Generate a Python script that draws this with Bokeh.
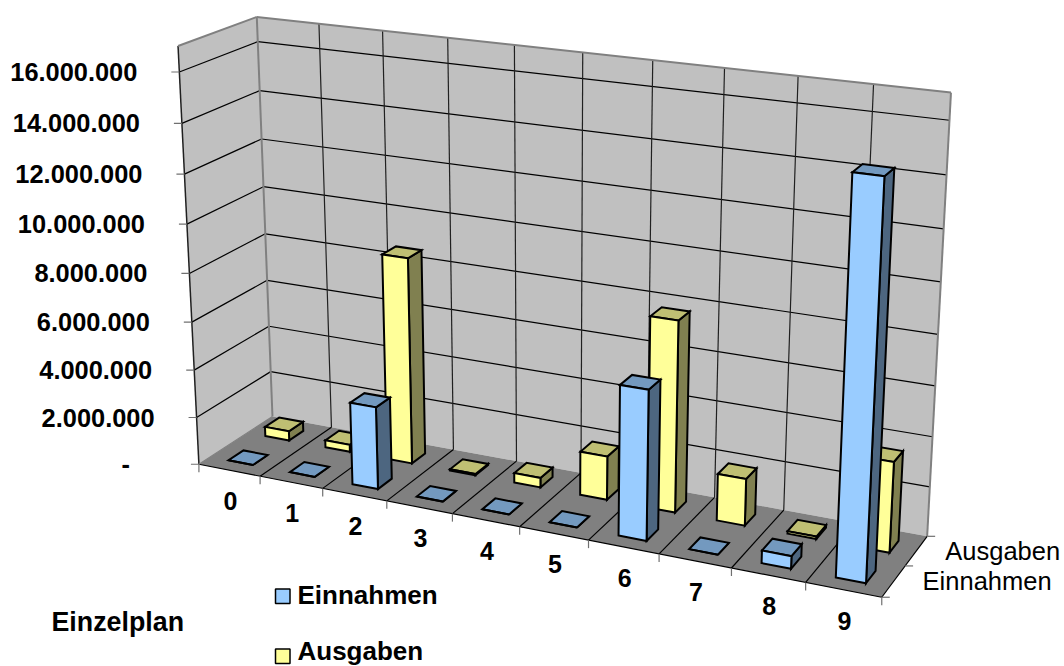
import numpy as np
from bokeh.plotting import figure
from bokeh.models import Range1d
from bokeh.core.properties import value
from bokeh.embed import file_html
from bokeh.resources import INLINE

categories = ["0", "1", "2", "3", "4", "5", "6", "7", "8", "9"]
series_names = ["Einnahmen", "Ausgaben"]
einnahmen = [0, 0, 3410000, 0, 0, 0, 6000000, 0, 500000, 15100000]
ausgaben = [400000, 300000, 8600000, 50000, 400000, 1800000, 7750000, 1900000, 100000, 3600000]
y_ticks = [2000000 * i for i in range(9)]
y_labels = ["-", "2.000.000", "4.000.000", "6.000.000", "8.000.000", "10.000.000",
            "12.000.000", "14.000.000", "16.000.000"]
y_max = 17000000
BAR = 0.4

# Perspective projection: (category, depth, value fraction) -> page pixels, fitted to the frame
anchors = [
    ((0, 0, 0), (199, 463)), ((0, 2, 0), (271, 416)), ((10, 0, 0), (881, 597)), ((10, 2, 0), (927, 535)),
    ((0, 0, 1), (177, 45)), ((0, 2, 1), (257, 16)), ((10, 2, 1), (951, 92)),
    ((5, 0, 0), (519, 526)), ((0, 0, 8 / 17), (189, 274)), ((0, 2, 8 / 17), (265, 234)),
    ((10, 1, 0), (905, 566)), ((10, 2, 16 / 17), (948, 120)),
]
A, b = [], []
for (X, Z, Y), (u, v) in anchors:
    A.append([X, Z, Y, 1, 0, 0, 0, 0, -u * X, -u * Z, -u * Y]); b.append(u)
    A.append([0, 0, 0, 0, X, Z, Y, 1, -v * X, -v * Z, -v * Y]); b.append(v)
P = np.append(np.linalg.lstsq(np.array(A, float), np.array(b, float), rcond=None)[0], 1).reshape(3, 4)


def proj(X, Z, val):
    w = P @ np.array([X, Z, val / y_max, 1.0])
    return float(w[0] / w[2]), float(w[1] / w[2])


def poly(pts):
    q = [proj(*t) for t in pts]
    return [a for a, _ in q], [c for _, c in q]


p = figure(width=1064, height=666, x_range=Range1d(0, 1064), y_range=Range1d(666, 0),
           output_backend="svg", toolbar_location=None, min_border=0)
p.axis.visible = False
p.grid.visible = False
p.outline_line_color = None
p.background_fill_color = "white"
p.border_fill_color = "white"

# walls and floor
for pts, col in [
    ([(0, 0, 0), (0, 2, 0), (0, 2, y_max), (0, 0, y_max)], "#C0C0C0"),
    ([(0, 2, 0), (10, 2, 0), (10, 2, y_max), (0, 2, y_max)], "#C0C0C0"),
    ([(0, 0, 0), (10, 0, 0), (10, 2, 0), (0, 2, 0)], "#808080"),
]:
    xs, ys = poly(pts)
    p.patch(xs, ys, fill_color=col, line_color=None)


def seg(a, c, color="#000000", w=1.2):
    xs, ys = poly([a, c])
    p.line(xs, ys, line_color=color, line_width=w)


# gridlines
for t in y_ticks[1:]:
    seg((0, 0, t), (0, 2, t))
    seg((0, 2, t), (10, 2, t))
for i in range(1, 10):
    seg((i, 2, 0), (i, 2, y_max), "#202020")
    seg((i, 0, 0), (i, 2, 0))
# frame edges
seg((0, 0, 0), (0, 0, y_max), "#202020", 1.5)
seg((0, 2, 0), (0, 2, y_max), "#808080", 2)
seg((10, 2, 0), (10, 2, y_max), "#808080", 2)
seg((0, 0, y_max), (0, 2, y_max), "#808080", 2)
seg((0, 2, y_max), (10, 2, y_max), "#808080", 2)
seg((0, 0, 0), (10, 0, 0))
seg((10, 0, 0), (10, 2, 0))
seg((0, 0, 0), (0, 2, 0), "#808080")

# ticks
for t in y_ticks:
    u, v = proj(0, 0, t)
    p.line([u - 8, u], [v, v], line_color="#707070", line_width=1.2)
for i in range(11):
    u, v = proj(i, 0, 0)
    p.line([u, u], [v, v + 8], line_color="#707070", line_width=1.2)
for z in range(3):
    u, v = proj(10, z, 0)
    p.line([u, u + 8], [v, v], line_color="#707070", line_width=1.2)

# bars, back row first, left to right
FACES = {"Einnahmen": ("#99CCFF", "#7399BF", "#4D6680"), "Ausgaben": ("#FFFF99", "#BFBF73", "#808050")}
for name, vals, z in [("Ausgaben", ausgaben, 1), ("Einnahmen", einnahmen, 0)]:
    front, top, side = FACES[name]
    for i, val in enumerate(vals):
        x0, x1 = i + 0.5 - BAR / 2, i + 0.5 + BAR / 2
        z0, z1 = z + 0.5 - BAR / 2, z + 0.5 + BAR / 2
        for pts, col in [
            ([(x1, z0, 0), (x1, z1, 0), (x1, z1, val), (x1, z0, val)], side),
            ([(x0, z0, val), (x1, z0, val), (x1, z1, val), (x0, z1, val)], top),
            ([(x0, z0, 0), (x1, z0, 0), (x1, z0, val), (x0, z0, val)], front),
        ]:
            xs, ys = poly(pts)
            p.patch(xs, ys, fill_color=col, line_color="black", line_width=2, line_join="miter")

FONT = value("Liberation Sans")
# value labels
for t, lab in zip(y_ticks, y_labels):
    u, v = proj(0, 0, t)
    p.text([u - (69 if lab == "-" else 42)], [v], text=[lab], text_font=FONT, text_font_style="bold",
           text_font_size="25.4px", text_align="right", text_baseline="middle", text_color="black")
# category labels
for i, lab in enumerate(categories):
    u, v = proj(i + 0.5, 0, 0)
    p.text([u + 1], [v + 31], text=[lab], text_font=FONT, text_font_style="bold",
           text_font_size="25px", text_align="center", text_baseline="middle", text_color="black")
# depth labels
for z, lab in enumerate(series_names):
    u, v = proj(10, z + 0.5, 0)
    p.text([u + 29], [v], text=[lab], text_font=FONT, text_font_size="25.5px",
           text_align="left", text_baseline="middle", text_color="black")

# legend
for name, top_y, mid_y in zip(series_names, [588.5, 648.5], [594.5, 650.5]):
    p.quad(left=[275], right=[289.5], top=[top_y], bottom=[top_y + 14.5], fill_color=FACES[name][0],
           line_color="black", line_width=1.5)
    p.text([297], [mid_y], text=[name], text_font=FONT, text_font_style="bold",
           text_font_size="26px", text_align="left", text_baseline="middle", text_color="black")
p.text([51], [621], text=["Einzelplan"], text_font=FONT, text_font_style="bold",
       text_font_size="26.8px", text_align="left", text_baseline="middle", text_color="black")

open("out.html", "w").write(file_html(p, INLINE))
